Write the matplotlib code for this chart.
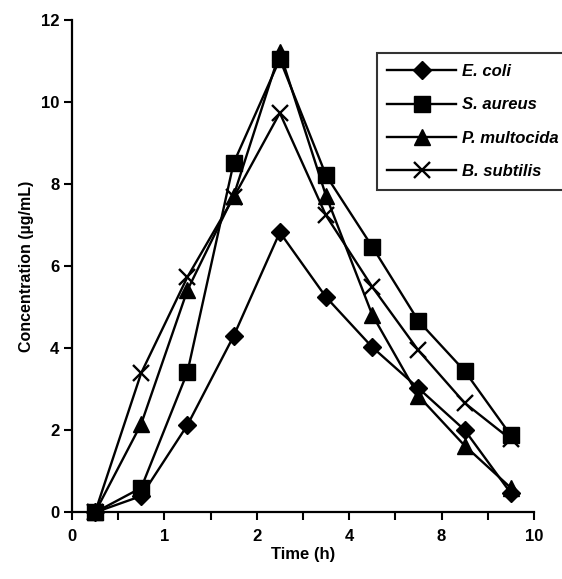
import matplotlib
matplotlib.use("Agg")
import matplotlib.pyplot as plt

plt.rcParams['font.family'] = ['Liberation Sans', 'DejaVu Sans']

# Sampling slots on the (uneven) time axis
x_pos = [0.5, 1.5, 2.5, 3.5, 4.5, 5.5, 6.5, 7.5, 8.5, 9.5]

e_coli = [0.0, 0.40, 2.13, 4.30, 6.83, 5.25, 4.03, 3.03, 2.01, 0.47]
s_aureus = [0.0, 0.60, 3.42, 8.52, 11.05, 8.22, 6.48, 4.67, 3.45, 1.88]
p_multocida = [0.0, 2.16, 5.42, 7.72, 11.22, 7.72, 4.82, 2.84, 1.63, 0.60]
b_subtilis = [0.0, 3.40, 5.74, 7.68, 9.74, 7.24, 5.50, 3.95, 2.67, 1.78]

xtick_pos = [0, 1, 2, 3, 4, 5, 6, 7, 8, 9, 10]
xtick_labels = ['0', '', '1', '', '2', '', '4', '', '8', '', '10']
ytick_pos = [0, 2, 4, 6, 8, 10, 12]

fig = plt.figure(figsize=(5.62, 5.79), dpi=100)
ax = fig.add_axes([0.128, 0.115, 0.822, 0.850])

lw = 1.7
ax.plot(x_pos, e_coli, color='black', lw=lw, marker='D', ms=9,
        label='E. coli', clip_on=False, zorder=3)
ax.plot(x_pos, s_aureus, color='black', lw=lw, marker='s', ms=11,
        label='S. aureus', clip_on=False, zorder=3)
ax.plot(x_pos, p_multocida, color='black', lw=lw, marker='^', ms=12,
        label='P. multocida', clip_on=False, zorder=3)
ax.plot(x_pos, b_subtilis, color='black', lw=lw, marker='x', ms=12, mew=1.7,
        label='B. subtilis', clip_on=False, zorder=3)

ax.set_xlim(0, 10)
ax.set_ylim(0, 12)
ax.set_xticks(xtick_pos)
ax.set_xticklabels(xtick_labels)
ax.set_yticks(ytick_pos)

for side in ['top', 'right']:
    ax.spines[side].set_visible(False)
for side in ['left', 'bottom']:
    ax.spines[side].set_linewidth(1.6)

ax.tick_params(direction='out', length=6, width=1.5, labelsize=12)
ax.tick_params(axis='x', pad=6)
ax.tick_params(axis='y', pad=3)
for lab in ax.get_xticklabels() + ax.get_yticklabels():
    lab.set_fontweight('bold')

ax.set_xlabel('Time (h)', fontsize=12, fontweight='bold', labelpad=2)
ax.set_ylabel('Concentration (µg/mL)', fontsize=11.5, fontweight='bold', labelpad=5)

leg = ax.legend(loc='upper left', bbox_to_anchor=(0.670, 0.908),
                bbox_transform=fig.transFigure, frameon=True, fancybox=False,
                edgecolor='black', handlelength=4.1, handletextpad=0.4,
                labelspacing=1.1, borderpad=0.65, borderaxespad=0,
                prop={'size': 12, 'weight': 'bold', 'style': 'italic'})
leg.get_frame().set_linewidth(1.5)

fig.savefig('out.png', dpi=100)
